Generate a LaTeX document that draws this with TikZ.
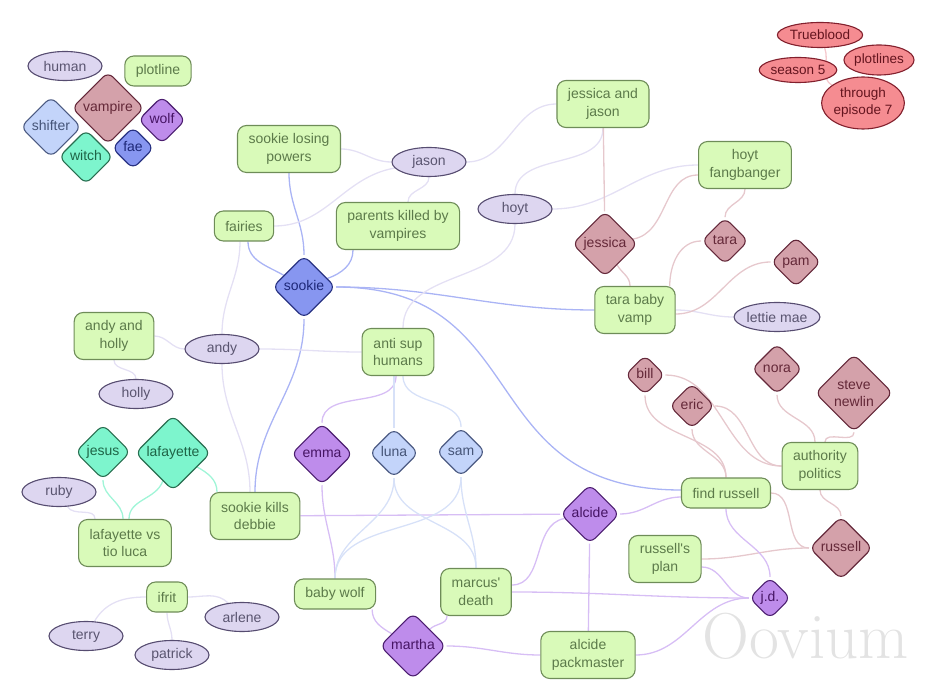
\documentclass[tikz,border=0pt]{standalone}
\usepackage{fontspec}
\setsansfont{Liberation Sans}
\usepackage{tikz}
\usetikzlibrary{positioning,backgrounds,shapes.geometric}

\definecolor{plotfill}{HTML}{D9FAB9}
\definecolor{plotdraw}{HTML}{6E8C58}
\definecolor{plottext}{HTML}{5C7A4A}
\definecolor{humanfill}{HTML}{DDD6F0}
\definecolor{humandraw}{HTML}{564C70}
\definecolor{humantext}{HTML}{5A5570}
\definecolor{vampfill}{HTML}{D4A1AA}
\definecolor{vampdraw}{HTML}{64283A}
\definecolor{vamptext}{HTML}{642838}
\definecolor{wolffill}{HTML}{BE8CEB}
\definecolor{wolfdraw}{HTML}{4C1E70}
\definecolor{wolftext}{HTML}{461464}
\definecolor{faefill}{HTML}{8796F0}
\definecolor{faedraw}{HTML}{283282}
\definecolor{faetext}{HTML}{1E2878}
\definecolor{shiftfill}{HTML}{C3D4FA}
\definecolor{shiftdraw}{HTML}{4B5A82}
\definecolor{shifttext}{HTML}{465578}
\definecolor{witchfill}{HTML}{7DF5CD}
\definecolor{witchdraw}{HTML}{286E50}
\definecolor{witchtext}{HTML}{1E6446}
\definecolor{titlefill}{HTML}{F58C91}
\definecolor{titledraw}{HTML}{82202D}
\definecolor{titletext}{HTML}{64141E}
\definecolor{faeedge}{HTML}{AAB4F5}
\definecolor{humanedge}{HTML}{E4E0F4}
\definecolor{vampedge}{HTML}{E6C8CD}
\definecolor{wolfedge}{HTML}{D7BEF5}
\definecolor{shiftedge}{HTML}{D7E1F8}
\definecolor{witchedge}{HTML}{A0F5D7}
\definecolor{titleedge}{HTML}{F5C8CD}

\begin{document}
\begin{tikzpicture}[
		auto,
		x=1pt, y=1pt,
		font=\sffamily\fontsize{14}{17.5}\selectfont,
		plotbox/.style={
			rectangle,
			rounded corners=9pt,
			draw=plotdraw,
			fill=plotfill,
			text=plottext,
			line width=1.1pt,
			inner xsep=11pt,
			inner ysep=8pt,
			minimum height=30pt,
			align=center
		},
		tall/.style={
			minimum height=47pt
		},
		humanell/.style={
			ellipse,
			draw=humandraw,
			fill=humanfill,
			text=humantext,
			line width=1.1pt,
			inner sep=0pt,
			minimum width=74pt,
			minimum height=29pt
		},
		diabox/.style={
			diamond,
			aspect=1,
			rounded corners=7pt,
			line width=1.1pt,
			inner sep=2.25pt,
			text height=10.5pt,
			text depth=3pt,
			align=center
		},
		vampdia/.style={diabox, draw=vampdraw, fill=vampfill, text=vamptext},
		wolfdia/.style={diabox, draw=wolfdraw, fill=wolffill, text=wolftext},
		faedia/.style={diabox, draw=faedraw, fill=faefill, text=faetext},
		shiftdia/.style={diabox, draw=shiftdraw, fill=shiftfill, text=shifttext},
		witchdia/.style={diabox, draw=witchdraw, fill=witchfill, text=witchtext},
		titleell/.style={
			ellipse,
			draw=titledraw,
			fill=titlefill,
			text=titletext,
			line width=1.1pt,
			inner sep=0pt,
			minimum height=25pt,
			align=center,
			font=\sffamily\fontsize{13.5}{17}\selectfont
		},
		faeline/.style={draw=faeedge, line width=1.3pt},
		humanline/.style={draw=humanedge, line width=1.3pt},
		vampline/.style={draw=vampedge, line width=1.3pt},
		wolfline/.style={draw=wolfedge, line width=1.3pt},
		shiftline/.style={draw=shiftedge, line width=1.3pt},
		witchline/.style={draw=witchedge, line width=1.3pt},
		titleline/.style={draw=titleedge, line width=1.3pt}
		]
		\useasboundingbox (0,0) rectangle (937,-700);
		
		% We start with the legend
		\node [humanell] (human) at (65,-66) {human};
		\node [plotbox] (plotline) at (158,-71) {plotline};
		\node [shiftdia] (shifter) at (51,-127) {shifter};
		\node [witchdia] (witch) at (86,-157) {witch};
		\node [vampdia] (vampire) at (108,-108) {vampire};
		\node [faedia] (fae) at (133,-148) {fae};
		\node [wolfdia] (wolf) at (162,-120) {wolf};
		
		% title
		\node [titleell] (trueblood) at (820,-35) {Trueblood};
		\node [titleell] (season) at (798,-70) {season 5};
		\node [titleell, minimum height=30pt] (plotlines) at (879,-60) {plotlines};
		\node [titleell, minimum height=52pt] (through) at (863,-103) {through\\episode 7};
		
		% plotlines
		\node [plotbox, tall] (losing) at (289,-149) {sookie losing\\powers};
		\node [plotbox] (fairies) at (244,-226) {fairies};
		\node [plotbox, tall] (parents) at (398,-226) {parents killed by\\vampires};
		\node [plotbox, tall] (antisup) at (398,-352) {anti sup\\humans};
		\node [plotbox, tall] (jessjason) at (603,-104) {jessica and\\jason};
		\node [plotbox, tall] (fangbanger) at (745,-165) {hoyt\\fangbanger};
		\node [plotbox, tall] (tarababy) at (635,-310) {tara baby\\vamp};
		\node [plotbox, tall] (andyholly) at (114,-336) {andy and\\holly};
		\node [plotbox, tall] (tioluca) at (125,-543) {lafayette vs\\tio luca};
		\node [plotbox, tall] (debbie) at (255,-516) {sookie kills\\debbie};
		\node [plotbox] (ifrit) at (167,-597) {ifrit};
		\node [plotbox] (babywolf) at (335,-594) {baby wolf};
		\node [plotbox, tall] (marcus) at (476,-592) {marcus\textquotesingle\\death};
		\node [plotbox, tall] (packmaster) at (588,-655) {alcide\\packmaster};
		\node [plotbox] (findrussell) at (726,-493) {find russell};
		\node [plotbox, tall] (authority) at (820,-466) {authority\\politics};
		\node [plotbox, tall] (plan) at (665,-559) {russell\textquotesingle s\\plan};
		
		% humans
		\node [humanell] (jason) at (429,-162) {jason};
		\node [humanell] (hoyt) at (515,-209) {hoyt};
		\node [humanell] (lettie) at (777,-317) {lettie mae};
		\node [humanell] (andy) at (222,-349) {andy};
		\node [humanell] (holly) at (136,-394) {holly};
		\node [humanell] (ruby) at (59,-492) {ruby};
		\node [humanell] (terry) at (86,-636) {terry};
		\node [humanell] (patrick) at (172,-655) {patrick};
		\node [humanell] (arlene) at (242,-617) {arlene};
		
		% vampires
		\node [vampdia] (jessica) at (605,-244) {jessica};
		\node [vampdia] (tara) at (725,-241) {tara};
		\node [vampdia] (pam) at (796,-262) {pam};
		\node [vampdia] (bill) at (645,-375) {bill};
		\node [vampdia] (eric) at (692,-406) {eric};
		\node [vampdia] (nora) at (777,-369) {nora};
		\node [vampdia, text height=28pt, text depth=1pt] (steve) at (854,-393) {steve\\newlin};
		\node [vampdia] (russell) at (841,-548) {russell};
		
		% wolves, shifters, witches and the fae
		\node [wolfdia] (emma) at (322,-454) {emma};
		\node [wolfdia] (alcide) at (590,-514) {alcide};
		\node [wolfdia] (martha) at (413,-646) {martha};
		\node [wolfdia] (jd) at (770,-598) {j.d.};
		\node [shiftdia] (luna) at (394,-453) {luna};
		\node [shiftdia] (sam) at (461,-452) {sam};
		\node [witchdia] (jesus) at (103,-452) {jesus};
		\node [witchdia] (lafayette) at (173,-453) {lafayette};
		\node [faedia] (sookie) at (304,-287) {sookie};
		
		\begin{scope}[on background layer]
		\node [text=black!11, font=\rmfamily\fontsize{65}{65}\selectfont] (oovium) at (806,-636) {Oovium};
		
		% sookie
		\draw [faeline] (sookie) to[out=90,in=270] (losing);
		\draw [faeline] ([xshift=4pt]fairies.south) to[out=270,in=150] (sookie);
		\draw [faeline] ([xshift=-45pt]parents.south) to[out=270,in=20] (sookie);
		\draw [faeline] (sookie) to[out=0,in=180] (tarababy);
		\draw [faeline] (sookie.east) .. controls +(200,0) and +(-210,0) .. ([yshift=3pt]findrussell.west);
		\draw [faeline] (sookie) to[out=270,in=90] (debbie);
		
		% humans
		\draw [humanline] (losing) to[out=0,in=180] (jason);
		\draw [humanline] (fairies) to[out=0,in=190] (jason);
		\draw [humanline] (jason) to[out=0,in=180] (jessjason);
		\draw [humanline] (jason) to[out=270,in=90] ([xshift=10pt]parents.north);
		\draw [humanline] (hoyt) to[out=90,in=270] (jessjason);
		\draw [humanline] (hoyt) to[out=0,in=180] (fangbanger);
		\draw [humanline] (hoyt) to[out=270,in=90] ([xshift=5pt]antisup.north);
		\draw [humanline] (tarababy) to[out=0,in=180] (lettie);
		\draw [humanline] (andy) to[out=180,in=0] (andyholly);
		\draw [humanline] (andy) to[out=0,in=180] (antisup);
		\draw [humanline] ([xshift=-4pt]fairies.south) to[out=270,in=90] (andy);
		\draw [humanline] (andy) to[out=270,in=90] ([xshift=-5pt]debbie.north);
		\draw [humanline] (holly) to[out=90,in=270] (andyholly);
		\draw [humanline] (ruby) to[out=-60,in=90] ([xshift=-30pt]tioluca.north);
		\draw [humanline] (ifrit) to[out=180,in=60] (terry);
		\draw [humanline] (ifrit) to[out=270,in=90] (patrick);
		\draw [humanline] (ifrit) to[out=0,in=135] (arlene);
		
		% vampires
		\draw [vampline] (jessica) -- (jessjason);
		\draw [vampline] (jessica) to[out=10,in=180] ([yshift=-10pt]fangbanger.west);
		\draw [vampline] (jessica) to[out=-60,in=90] ([xshift=-5pt]tarababy.north);
		\draw [vampline] (tara) to[out=90,in=270] (fangbanger);
		\draw [vampline] (tara) to[out=180,in=90] ([xshift=-6pt]tarababy.north east);
		\draw [vampline] (pam) to[out=180,in=0] ([yshift=-4pt]tarababy.east);
		\draw [vampline] (bill) to[out=0,in=180] (authority);
		\draw [vampline] (eric) to[out=0,in=180] (authority);
		\draw [vampline] (bill) to[out=270,in=90] (findrussell);
		\draw [vampline] (eric) to[out=270,in=90] (findrussell);
		\draw [vampline] (nora) to[out=270,in=90] ([xshift=-5pt]authority.north);
		\draw [vampline] (steve) to[out=270,in=90] ([xshift=5pt]authority.north);
		\draw [vampline] (authority) to[out=270,in=90] (russell);
		\draw [vampline] (findrussell) to[out=0,in=180] (russell);
		\draw [vampline] (plan) to[out=0,in=180] (russell);
		
		% wolves
		\draw [wolfline] (emma) to[out=90,in=270] ([xshift=-2pt]antisup.south);
		\draw [wolfline] (emma) to[out=270,in=90] (babywolf);
		\draw [wolfline] (debbie) -- (alcide);
		\draw [wolfline] (alcide) to[out=190,in=0] ([yshift=7pt]marcus.east);
		\draw [wolfline] (alcide) to[out=0,in=180] ([yshift=-4pt]findrussell.west);
		\draw [wolfline] (alcide) -- (packmaster);
		\draw [wolfline] ([xshift=-4pt]babywolf.south east) to[out=270,in=150] (martha);
		\draw [wolfline] ([xshift=-29pt]marcus.south) to[out=270,in=45] (martha);
		\draw [wolfline] (martha) to[out=0,in=180] (packmaster);
		\draw [wolfline] (marcus) to[out=0,in=180] (jd);
		\draw [wolfline] (findrussell) to[out=270,in=90] (jd);
		\draw [wolfline] ([yshift=-8pt]plan.east) to[out=0,in=180] (jd);
		\draw [wolfline] (packmaster) to[out=0,in=180] (jd);
		
		% shifters
		\draw [shiftline] (luna) to[out=90,in=270] ([xshift=-4pt]antisup.south);
		\draw [shiftline] (sam) to[out=90,in=270] ([xshift=5pt]antisup.south);
		\draw [shiftline] (luna) to[out=270,in=90] (babywolf);
		\draw [shiftline] (luna) to[out=270,in=90] (marcus);
		\draw [shiftline] (sam) to[out=270,in=90] (babywolf);
		\draw [shiftline] (sam) to[out=270,in=90] (marcus);
		
		% witches
		\draw [witchline] (jesus) to[out=270,in=90] ([xshift=-2pt]tioluca.north);
		\draw [witchline] (lafayette) to[out=250,in=90] ([xshift=4pt]tioluca.north);
		\draw [witchline] (lafayette) to[out=-30,in=90] ([xshift=-38pt]debbie.north);
		
		% title
		\draw [titleline] (trueblood) to[out=-70,in=150] (through);
		\end{scope}
		
		\end{tikzpicture}
\end{document}
